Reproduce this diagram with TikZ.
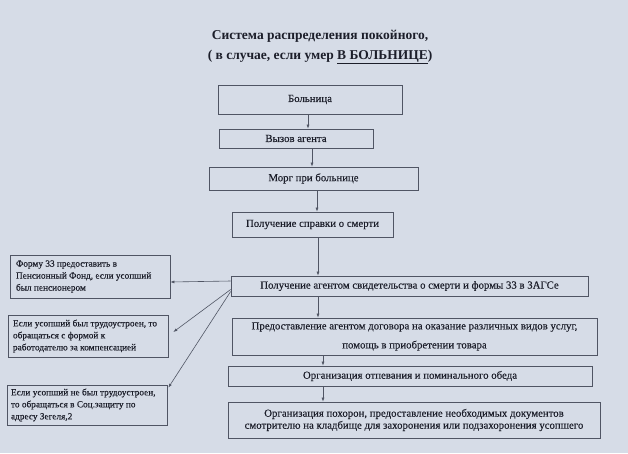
\documentclass[tikz,border=0pt]{standalone}
\usepackage{fontspec}
\setmainfont{Liberation Serif}
\newfontfamily\medfont[FakeBold=0.25]{Liberation Serif}
\usetikzlibrary{arrows.meta}
\definecolor{paper}{RGB}{214,220,231}
\definecolor{ink}{RGB}{28,30,42}
\definecolor{edge}{RGB}{80,85,100}
\tikzset{
  mainbox/.style={draw=edge, line width=0.7pt, inner sep=0pt, align=center, text=ink, font=\medfont\fontsize{10.8}{13.5}\selectfont},
  sidebox/.style={draw=edge, line width=0.7pt, inner sep=0pt, text=ink, font=\medfont\fontsize{9.3}{12}\selectfont},
  arr/.style={-{Latex[length=4pt,width=3pt]}, draw=edge, line width=0.6pt},
  titletext/.style={text=ink, font=\fontsize{13.5}{15}\selectfont\bfseries}
}
\begin{document}
\begin{tikzpicture}[x=1pt,y=-1pt]
\fill[paper] (0,0) rectangle (628,453);
\useasboundingbox (0,0) rectangle (628,453);
\node[titletext] (t1) at (320,36) {Система распределения покойного,};
\node[titletext] (t2) at (320,57) {( в случае, если умер \underline{В БОЛЬНИЦЕ})};

\node[mainbox, minimum width=184pt, minimum height=29pt] (b1) at (310,99.5) {Больница};
\node[mainbox, minimum width=154pt, minimum height=19pt] (b2) at (296,138.5) {Вызов агента};
\node[mainbox, minimum width=209pt, minimum height=23pt] (b3) at (313.5,178.5) {Морг при больнице};
\node[mainbox, minimum width=161pt, minimum height=25pt] (b4) at (312.5,224.5) {Получение справки о смерти};
\node[mainbox, minimum width=357pt, minimum height=20pt] (b5) at (409.5,286) {Получение агентом свидетельства о смерти и формы 33 в ЗАГСе};
\node[mainbox, minimum width=365pt, minimum height=37pt, font=\medfont\fontsize{10.8}{19}\selectfont] (b6) at (414.5,336.5) {Предоставление агентом договора на оказание различных видов услуг,\\помощь в приобретении товара};
\node[mainbox, minimum width=364pt, minimum height=20pt] (b7) at (410,376) {Организация отпевания и поминального обеда};
\node[mainbox, minimum width=372pt, minimum height=36pt] (b8) at (414,420) {\raisebox{4pt}{\begin{tabular}{@{}c@{}}Организация похорон, предоставление необходимых документов\\[-1.5pt]смотрителю на кладбище для захоронения или подзахоронения усопшего\end{tabular}}};

\node[sidebox, minimum width=160pt, minimum height=43pt] (l1) at (90,276.5) {\begin{minipage}{148pt}Форму 33 предоставить в\\Пенсионный Фонд, если усопший\\был пенсионером\end{minipage}};
\node[sidebox, minimum width=160pt, minimum height=42pt] (l2) at (88,336) {\begin{minipage}{150pt}Если усопший был трудоустроен, то\\обращаться с формой к\\работодателю за компенсацией\end{minipage}};
\node[sidebox, minimum width=160pt, minimum height=40pt] (l3) at (87,405) {\begin{minipage}{152pt}Если усопший не был трудоустроен,\\то обращаться в Соц.защиту по\\адресу Зегеля,2\end{minipage}};

\draw[arr] (b1.south -| 308,0) -- (b2.north -| 308,0);
\draw[arr] (b2.south -| 312,0) -- (b3.north -| 312,0);
\draw[arr] (b3.south -| 317,0) -- (b4.north -| 317,0);
\draw[arr] (b4.south -| 318,0) -- (b5.north -| 318,0);
\draw[arr] (b5.south -| 318,0) -- (b6.north -| 318,0);
\draw[arr] (b6.south -| 323,0) -- (b7.north -| 323,0);
\draw[arr] (b7.south -| 323,0) -- (b8.north -| 323,0);

\draw[arr] ([yshift=5pt]b5.west) -- ([yshift=-5.5pt]l1.east);
\draw[arr] ([yshift=-3.5pt]b5.west) -- ([xshift=5pt,yshift=4pt]l2.east);
\draw[arr] ([yshift=-5.5pt]b5.west) -- ([xshift=1pt,yshift=-3pt]l3.north east);
\end{tikzpicture}
\end{document}
